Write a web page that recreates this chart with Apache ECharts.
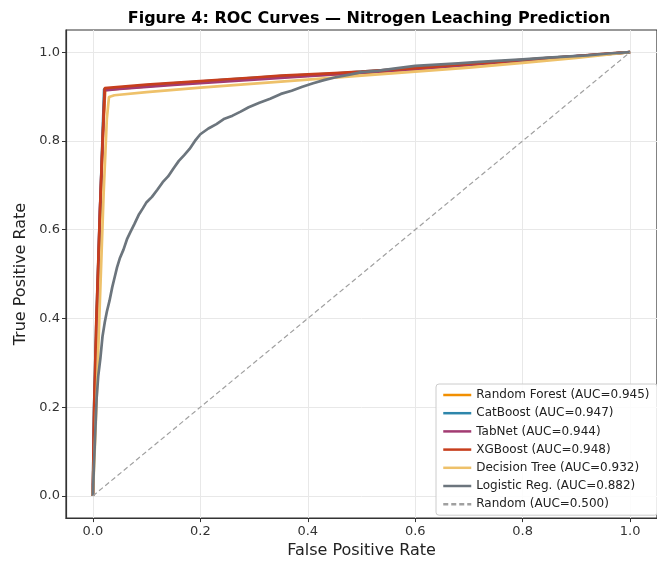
<!DOCTYPE html>
<html><head><meta charset="utf-8">
<script src="https://cdn.jsdelivr.net/npm/echarts@6/dist/echarts.min.js"></script>
<style>html,body{margin:0;padding:0;background:#fff}#c{width:657px;height:564px}</style>
</head><body><div id="c"></div>
<script>
const tickValues = [0, 0.2, 0.4, 0.6, 0.8, 1.0];
const seriesNames = ['Random Forest (AUC=0.945)', 'CatBoost (AUC=0.947)', 'TabNet (AUC=0.944)', 'XGBoost (AUC=0.948)', 'Decision Tree (AUC=0.932)', 'Logistic Reg. (AUC=0.882)', 'Random (AUC=0.500)'];

const rfFpr = [0, 0.003, 0.008, 0.014, 0.019, 0.023, 0.05, 0.1, 0.15, 0.2, 0.25, 0.3, 0.35, 0.4, 0.45, 0.5, 0.55, 0.6, 0.65, 0.7, 0.75, 0.8, 0.85, 0.9, 0.95, 1.0];
const rfTpr = [0, 0.2, 0.42, 0.64, 0.82, 0.915, 0.918, 0.923, 0.928, 0.932, 0.936, 0.94, 0.944, 0.947, 0.95, 0.953, 0.957, 0.961, 0.966, 0.971, 0.976, 0.98, 0.985, 0.99, 0.995, 1.0];

const cbFpr = [0, 0.002, 0.007, 0.013, 0.018, 0.021, 0.05, 0.1, 0.15, 0.2, 0.25, 0.3, 0.35, 0.4, 0.45, 0.5, 0.55, 0.6, 0.65, 0.7, 0.75, 0.8, 0.85, 0.9, 0.95, 1.0];
const cbTpr = [0, 0.19, 0.41, 0.63, 0.81, 0.917, 0.92, 0.925, 0.93, 0.934, 0.938, 0.942, 0.946, 0.949, 0.952, 0.956, 0.96, 0.964, 0.968, 0.973, 0.978, 0.982, 0.987, 0.991, 0.995, 1.0];

const tnFpr = [0, 0.003, 0.008, 0.013, 0.019, 0.022, 0.05, 0.1, 0.15, 0.2, 0.25, 0.3, 0.35, 0.4, 0.45, 0.5, 0.55, 0.6, 0.65, 0.7, 0.75, 0.8, 0.85, 0.9, 0.95, 1.0];
const tnTpr = [0, 0.2, 0.43, 0.64, 0.82, 0.914, 0.917, 0.922, 0.926, 0.93, 0.934, 0.938, 0.942, 0.946, 0.95, 0.954, 0.958, 0.962, 0.967, 0.972, 0.977, 0.982, 0.986, 0.991, 0.995, 1.0];

const xgFpr = [0, 0.002, 0.006, 0.012, 0.018, 0.022, 0.05, 0.1, 0.15, 0.2, 0.25, 0.3, 0.35, 0.4, 0.45, 0.5, 0.55, 0.6, 0.65, 0.7, 0.75, 0.8, 0.85, 0.9, 0.95, 1.0];
const xgTpr = [0, 0.18, 0.38, 0.6, 0.8, 0.919, 0.922, 0.927, 0.931, 0.935, 0.939, 0.943, 0.947, 0.95, 0.953, 0.956, 0.96, 0.964, 0.969, 0.974, 0.978, 0.983, 0.987, 0.991, 0.996, 1.0];

const dtFpr = [0, 0.005, 0.012, 0.02, 0.026, 0.03, 0.04, 0.1, 0.15, 0.2, 0.3, 0.4, 0.5, 0.6, 0.7, 0.8, 0.9, 1.0];
const dtTpr = [0, 0.15, 0.4, 0.68, 0.85, 0.899, 0.903, 0.91, 0.915, 0.92, 0.929, 0.938, 0.947, 0.956, 0.965, 0.976, 0.987, 1.0];

const lrFpr = [0, 0.002, 0.004, 0.007, 0.01, 0.014, 0.018, 0.022, 0.026, 0.031, 0.036, 0.04, 0.045, 0.05, 0.057, 0.064, 0.07, 0.077, 0.086, 0.093, 0.1, 0.11, 0.12, 0.13, 0.14, 0.15, 0.16, 0.17, 0.18, 0.19, 0.2, 0.215, 0.23, 0.245, 0.26, 0.275, 0.29, 0.31, 0.33, 0.35, 0.37, 0.39, 0.41, 0.43, 0.45, 0.48, 0.5, 0.53, 0.56, 0.6, 0.64, 0.68, 0.72, 0.76, 0.8, 0.84, 0.88, 0.92, 0.96, 1.0];
const lrTpr = [0, 0.07, 0.13, 0.22, 0.27, 0.31, 0.36, 0.39, 0.415, 0.44, 0.47, 0.49, 0.515, 0.535, 0.555, 0.58, 0.595, 0.612, 0.635, 0.648, 0.662, 0.674, 0.69, 0.707, 0.72, 0.738, 0.755, 0.768, 0.782, 0.8, 0.815, 0.828, 0.838, 0.85, 0.857, 0.866, 0.876, 0.886, 0.895, 0.906, 0.913, 0.922, 0.93, 0.937, 0.943, 0.95, 0.955, 0.958, 0.963, 0.969, 0.972, 0.975, 0.978, 0.981, 0.984, 0.987, 0.99, 0.993, 0.997, 1.0];

const rndFpr = [0, 1];
const rndTpr = [0, 1];

const colors = ['#F18F01', '#2E86AB', '#A23B72', '#C73E1D', '#EEC16A', '#6C757D', '#A0A0A0'];

function zip(a, b) { return a.map((v, i) => [v, b[i]]); }
const curves = [[rfFpr, rfTpr], [cbFpr, cbTpr], [tnFpr, tnTpr], [xgFpr, xgTpr], [dtFpr, dtTpr], [lrFpr, lrTpr], [rndFpr, rndTpr]];

const font = 'DejaVu Sans';
const series = curves.map((c, i) => ({
  name: seriesNames[i],
  type: 'line',
  data: zip(c[0], c[1]),
  symbol: 'none',
  smooth: false,
  animation: false,
  lineStyle: i === 6 ? { color: colors[i], width: 1.2, type: [5, 3] } : { color: colors[i], width: 2.7 },
  itemStyle: { color: colors[i] },
  z: 2 + i
}));

const chart = echarts.init(document.getElementById('c'), null, { renderer: 'canvas' });
chart.setOption({
  animation: false,
  backgroundColor: '#fff',
  title: {
    text: 'Figure 4: ROC Curves — Nitrogen Leaching Prediction',
    left: 364, top: 6, textAlign: 'center',
    textStyle: { fontFamily: font, fontSize: 16, fontWeight: 'bold', color: '#000' }
  },
  grid: { left: 66, right: -7, top: 30, bottom: 45, show: true, borderColor: '#333', borderWidth: 1.2, backgroundColor: 'transparent' },
  xAxis: {
    type: 'value', min: -0.05, max: 1.05,
    name: 'False Positive Rate', nameLocation: 'middle', nameGap: 24,
    nameTextStyle: { fontFamily: font, fontSize: 16, color: '#222' },
    axisLine: { show: true, onZero: false, lineStyle: { color: '#333', width: 1.2 } },
    axisTick: { show: true, customValues: tickValues, length: 4, lineStyle: { color: '#333' } },
    axisLabel: { customValues: tickValues, formatter: v => v.toFixed(1), fontFamily: font, fontSize: 13, color: '#333', margin: 7 },
    splitLine: { show: true, lineStyle: { color: '#e8e8e8', width: 1 } }
  },
  yAxis: {
    type: 'value', min: -0.05, max: 1.05,
    name: 'True Positive Rate', nameLocation: 'middle', nameGap: 37,
    nameTextStyle: { fontFamily: font, fontSize: 16, color: '#222' },
    axisLine: { show: true, onZero: false, lineStyle: { color: '#333', width: 1.2 } },
    axisTick: { show: true, customValues: tickValues, length: 4, lineStyle: { color: '#333' } },
    axisLabel: { customValues: tickValues, formatter: v => v.toFixed(1), fontFamily: font, fontSize: 13, color: '#333', margin: 6 },
    splitLine: { show: true, lineStyle: { color: '#e8e8e8', width: 1 } }
  },
  legend: {
    data: seriesNames,
    orient: 'vertical', left: 436, top: 384,
    itemWidth: 28, itemHeight: 12, itemGap: 6.2,
    padding: [5, 8, 5, 6],
    itemStyle: { opacity: 0 },
    lineStyle: { width: 2.5 },
    backgroundColor: 'rgba(255,255,255,0.85)', borderColor: '#ccc', borderWidth: 1, borderRadius: 3,
    textStyle: { fontFamily: font, fontSize: 12, color: '#222' }
  },
  series: series
});
</script></body></html>
